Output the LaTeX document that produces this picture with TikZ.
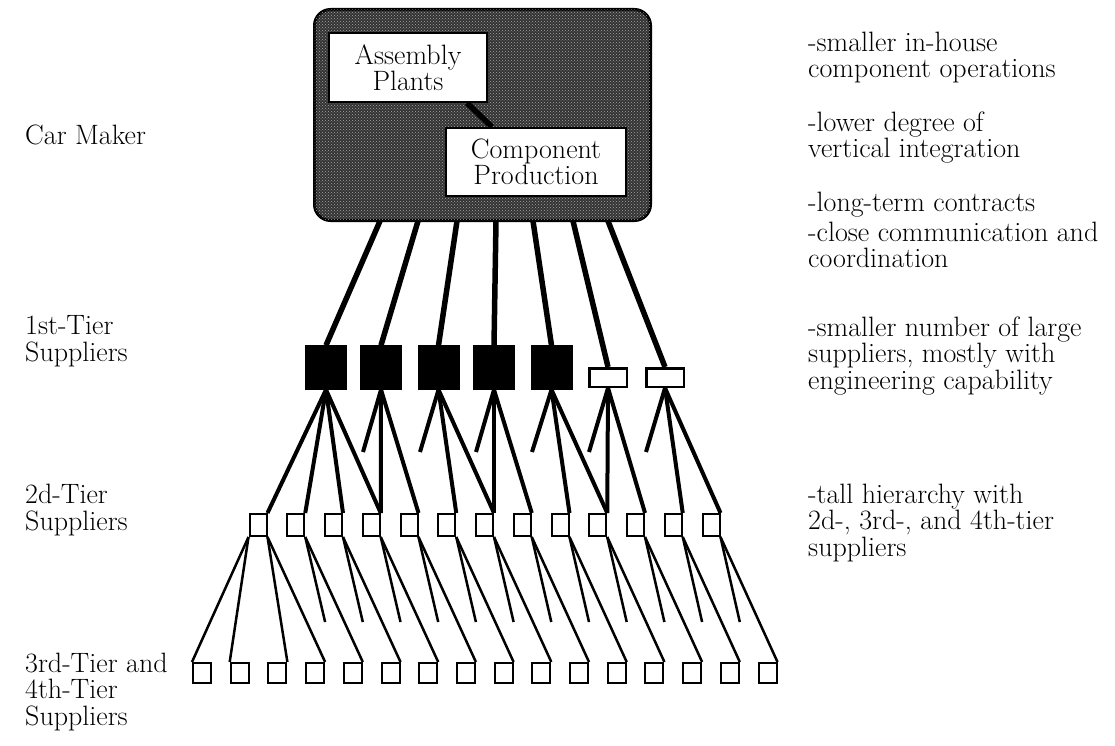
\documentclass[tikz,border=0pt]{standalone}
\usepackage{tikz}
\usetikzlibrary{patterns,calc}

\tikzset{
  maker/.style={draw, line width=3pt, rounded corners=16pt, fill=black!80,
    postaction={pattern=crosshatch dots, pattern color=black!35},
    minimum width=336pt, minimum height=211pt, inner sep=0pt},
  plant/.style={draw, line width=2pt, fill=white, align=center, inner sep=0pt},
  bigsup/.style={draw, fill=black, minimum width=41pt, minimum height=44pt, inner sep=0pt},
  smallsup/.style={draw, line width=2.5pt, fill=white, minimum width=37.5pt, minimum height=18.5pt, inner sep=0pt},
  subsup/.style={draw, line width=2pt, fill=white, minimum width=17pt, minimum height=22pt, inner sep=0pt},
  feed/.style={line width=5.5pt},
  tie/.style={line width=4pt},
  thin tie/.style={line width=2.5pt},
  tiername/.style={anchor=west, align=left, inner sep=0pt},
  note/.style={anchor=west, align=left, inner sep=0pt}
}

\begin{document}
\begin{tikzpicture}[x=1pt, y=-1pt, font=\fontsize{28}{26.5}\selectfont]
  \useasboundingbox (0,0) rectangle (1115,746);

  % car maker
  \node[maker] (maker) at (482.5,115) {};
  \node[plant, minimum width=158pt, minimum height=69pt] (asm) at (408,67.5) {Assembly\\Plants};
  \node[plant, minimum width=180pt, minimum height=68pt] (comp) at (536,162) {Component\\Production};
  \draw[feed] ($(asm.south east)+(-21,0)$) -- ($(comp.north west)+(47,0)$);

  % 1st tier
  \node[bigsup] (f1) at (326,367.5) {};
  \node[bigsup] (f2) at (381,367.5) {};
  \node[bigsup] (f3) at (438.5,367.5) {};
  \node[bigsup] (f4) at (494,367.5) {};
  \node[bigsup] (f5) at (551.5,367.5) {};
  \node[smallsup] (f6) at (608,377.5) {};
  \node[smallsup] (f7) at (665,377.5) {};

  \foreach \i/\x in {1/380,2/418,3/457,4/496,5/533,6/573,7/608} {
    \coordinate (m\i) at (\x,221);
    \draw[feed] (m\i) -- (f\i.north);
  }

  % 2d and 3rd/4th tier
  \foreach \j in {1,...,13}
    \node[subsup] (s\j) at ({258+37.75*(\j-1)},525) {};
  \foreach \j in {1,...,16}
    \node[subsup, minimum width=18pt, minimum height=20pt] (r\j) at ({202+37.7*(\j-1)},673) {};

  \foreach \i/\j in {1/1,1/2,1/3,1/4,2/4,2/5,3/6,3/7,4/7,4/8,5/9,5/10,6/10,6/11,7/12,7/13}
    \draw[tie] (f\i.south) -- (s\j.north east);
  \foreach \i/\x in {2/363,3/420,4/476,5/532,6/589,7/646} {
    \coordinate (e\i) at (\x,452);
    \draw[tie] (f\i.south) -- (e\i);
  }

  \draw[thin tie] (s1.south west) -- (r1.north west);
  \draw[thin tie] (s1.south west) -- (r2.north west);
  \draw[thin tie] (s1.south east) -- (r3.north east);
  \draw[thin tie] (s1.south east) -- (r4.north east);
  \foreach \j in {2,...,13} {
    \pgfmathtruncatemacro{\k}{\j+3}
    \pgfmathtruncatemacro{\m}{\j+2}
    \coordinate (t\j) at (r\m.north east |- 0,622);
    \draw[thin tie] (s\j.south east) -- (r\k.north east);
    \draw[thin tie] (s\j.south east) -- (t\j);
  }

  % tier names
  \node[tiername] (lmaker) at (25,135) {Car Maker};
  \node[tiername] (ltier1) at (25,341) {1st-Tier\\Suppliers};
  \node[tiername] (ltier2) at (25,510) {2d-Tier\\Suppliers};
  \node[tiername] (ltier3) at (25,692) {3rd-Tier and\\4th-Tier\\Suppliers};

  % notes
  \node[note] (inhouse) at (808,57.5) {-smaller in-house\\component operations};
  \node[note] (vertical) at (808,137.5) {-lower degree of\\vertical integration};
  \node[note] (contracts) at (808,205) {-long-term contracts};
  \node[note] (communication) at (808,245) {-close communication and\\coordination};
  \node[note] (engineering) at (808,356) {-smaller number of large\\suppliers, mostly with\\engineering capability};
  \node[note] (hierarchy) at (808,523) {-tall hierarchy with\\2d-, 3rd-, and 4th-tier\\suppliers};
\end{tikzpicture}
\end{document}
